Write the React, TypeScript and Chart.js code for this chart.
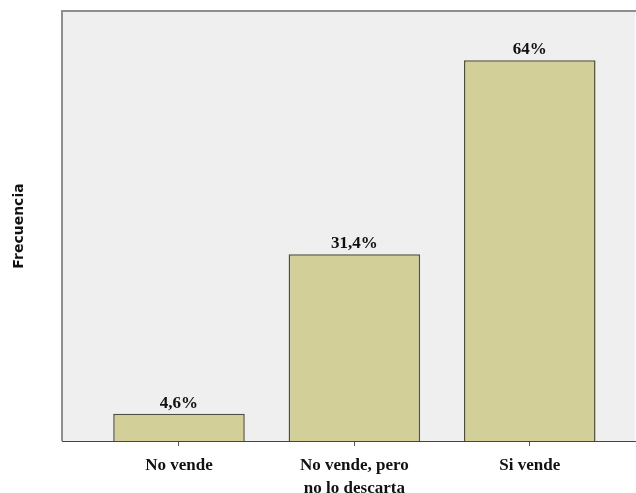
import React, { useEffect, useRef } from "react";
import { Chart, registerables } from "chart.js";

Chart.register(...registerables);

const categories: string[][] = [["No vende"], ["No vende, pero", "no lo descarta"], ["Si vende"]];
const values: number[] = [4.6, 31.4, 64];
const valueLabels: string[] = ["4,6%", "31,4%", "64%"];
const yAxisTitle = "Frecuencia";

const plotFrame = {
  id: "plotFrame",
  beforeDraw(chart: any) {
    const { ctx, chartArea: a } = chart;
    ctx.save();
    ctx.fillStyle = "#efefef";
    ctx.fillRect(a.left, a.top, a.right - a.left, a.bottom - a.top);
    ctx.strokeStyle = "#8e8e8e";
    ctx.lineWidth = 2;
    ctx.beginPath();
    ctx.moveTo(a.left, a.bottom);
    ctx.lineTo(a.left, a.top);
    ctx.lineTo(chart.width, a.top);
    ctx.stroke();
    ctx.restore();
  },
};

const barLabels = {
  id: "barLabels",
  afterDatasetsDraw(chart: any) {
    const { ctx } = chart;
    const meta = chart.getDatasetMeta(0);
    ctx.save();
    ctx.fillStyle = "#111";
    ctx.font = "bold 17px 'Liberation Serif', 'Times New Roman', serif";
    ctx.textAlign = "center";
    ctx.textBaseline = "alphabetic";
    meta.data.forEach((el: any, i: number) => {
      ctx.fillText(valueLabels[i], el.x, el.y - 6);
    });
    ctx.restore();
  },
};

export default function App() {
  const ref = useRef<HTMLCanvasElement>(null);
  useEffect(() => {
    if (!ref.current) return;
    const chart = new Chart(ref.current, {
      type: "bar",
      data: {
        datasets: [
          {
            data: values.map((v, i) => ({ x: i, y: v })),
            backgroundColor: "#d3cf98",
            borderColor: "#505040",
            borderWidth: 1.5,
            barPercentage: 0.75,
            categoryPercentage: 1,
          },
        ],
      },
      options: {
        animation: false,
        responsive: false,
        layout: { padding: { top: 11, right: 1, left: 0, bottom: 0 } },
        plugins: { legend: { display: false }, tooltip: { enabled: false } },
        scales: {
          x: {
            type: "linear",
            offset: false,
            min: -0.667,
            max: 2.6,
            afterBuildTicks: (s: any) => {
              s.ticks = categories.map((_, i) => ({ value: i }));
            },
            afterFit: (s: any) => {
              s.height = 52;
            },
            ticks: {
              autoSkip: false,
              maxRotation: 0,
              padding: 8,
              color: "#111",
              font: { family: "'Liberation Serif', 'Times New Roman', serif", size: 17, weight: "bold", lineHeight: 1.35 },
              callback: (v: any) => categories[Math.round(Number(v))] ?? "",
            },
            grid: { display: true, offset: false, drawOnChartArea: false, drawTicks: true, tickLength: 5, color: "#555" },
            border: { display: true, color: "#444", width: 1 },
          },
          y: {
            min: 0,
            max: 72.3,
            ticks: { display: false },
            grid: { display: false },
            border: { display: false },
            afterFit: (s: any) => {
              s.width = 62;
            },
            title: {
              display: true,
              text: yAxisTitle,
              color: "#111",
              font: { family: "'DejaVu Sans', Arial, sans-serif", size: 14, weight: "bold" },
              padding: { top: 11, bottom: 0 },
            },
          },
        },
      },
      plugins: [plotFrame, barLabels],
    } as any);
    return () => chart.destroy();
  }, []);
  return (
    <div style={{ position: "absolute", left: 0, top: 0, width: 636, height: 493, background: "#fff" }}>
      <canvas ref={ref} width={636} height={493} />
    </div>
  );
}
